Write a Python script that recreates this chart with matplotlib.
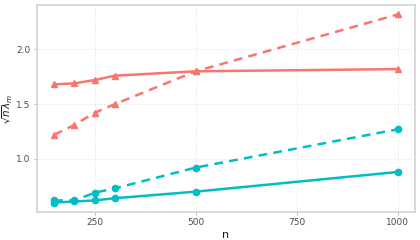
import matplotlib
matplotlib.use("Agg")
import matplotlib.pyplot as plt

n = [150, 200, 250, 300, 500, 1000]
red_solid = [1.68, 1.69, 1.72, 1.76, 1.80, 1.82]
red_dashed = [1.22, 1.31, 1.42, 1.50, 1.80, 2.32]
teal_solid = [0.60, 0.61, 0.62, 0.64, 0.70, 0.88]
teal_dashed = [0.62, 0.62, 0.69, 0.73, 0.92, 1.27]
xticks = [250, 500, 750, 1000]
yticks = [1.0, 1.5, 2.0]

RED = "#F8766D"
TEAL = "#00BFC4"

fig = plt.figure(figsize=(4.2, 2.4), dpi=100)
ax = fig.add_axes([37/420, 28/240, 378/420, 207/240])

ax.plot(n, red_solid, color=RED, lw=1.8, marker="^", ms=5, zorder=3)
ax.plot(n, red_dashed, color=RED, lw=1.8, ls=(0, (3.5, 2.5)), marker="^", ms=5, zorder=3)
ax.plot(n, teal_solid, color=TEAL, lw=1.8, marker="o", ms=4.5, zorder=3)
ax.plot(n, teal_dashed, color=TEAL, lw=1.8, ls=(0, (3.5, 2.5)), marker="o", ms=4.5, zorder=3)

ax.set_xlim(107.5, 1042.5)
ax.set_ylim(0.514, 2.406)
ax.set_xticks(xticks)
ax.set_yticks(yticks)
ax.set_yticklabels(["1.0", "1.5", "2.0"])
ax.grid(True, color="#E5E5E5", lw=0.6, ls=(0, (2, 2)))
ax.set_axisbelow(True)
for s in ax.spines.values():
    s.set_color("#D3D3D3")
    s.set_linewidth(1.2)
ax.tick_params(colors="#B3B3B3", length=2.5, width=0.6, labelsize=6.5, labelcolor="#4D4D4D", pad=2)
ax.set_xlabel("n", fontsize=8, color="#1A1A1A", labelpad=2)
ax.set_ylabel(r"$\sqrt{n}\lambda_m$", fontsize=7.5, color="#1A1A1A", labelpad=1)

fig.savefig("out.png", dpi=100)
